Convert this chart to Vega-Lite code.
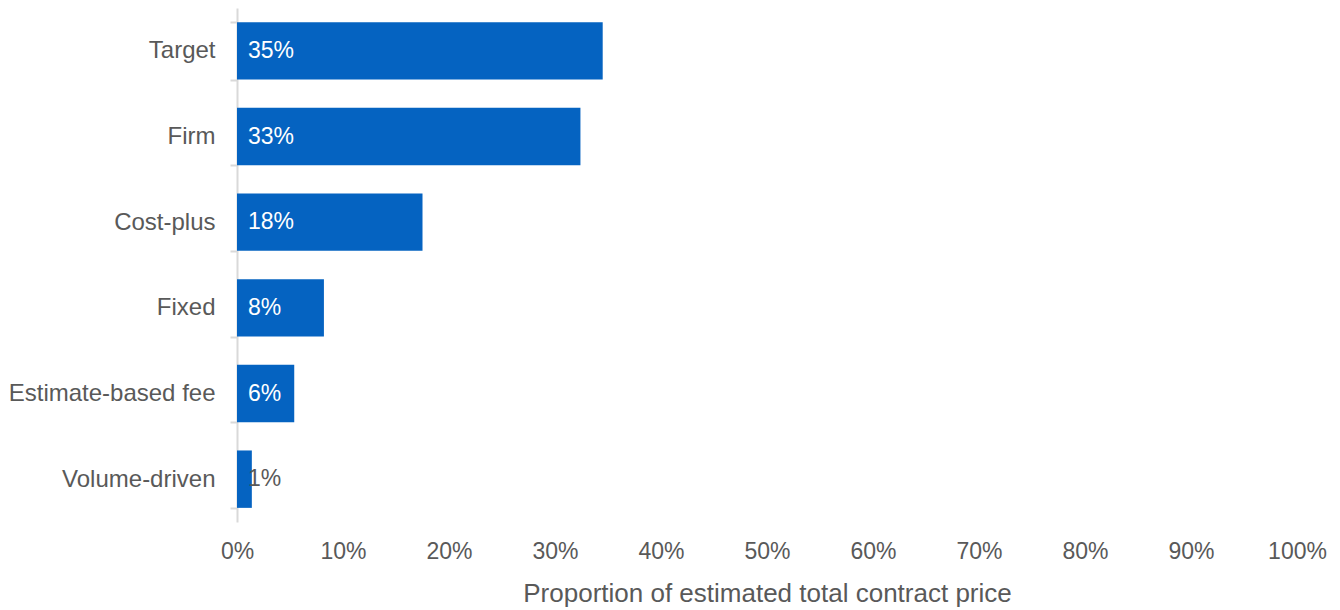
{
  "$schema": "https://vega.github.io/schema/vega-lite/v6.json",
  "width": 1060,
  "height": 514,
  "autosize": {"type": "none"},
  "padding": {"left": 237, "top": 8, "right": 43, "bottom": 88},
  "background": "white",
  "data": {
    "values": [
      {"type": "Target", "value": 34.5, "label": "35%"},
      {"type": "Firm", "value": 32.4, "label": "33%"},
      {"type": "Cost-plus", "value": 17.5, "label": "18%"},
      {"type": "Fixed", "value": 8.2, "label": "8%"},
      {"type": "Estimate-based fee", "value": 5.4, "label": "6%"},
      {"type": "Volume-driven", "value": 1.4, "label": "1%"}
    ]
  },
  "config": {
    "view": {"stroke": null},
    "font": "Liberation Sans",
    "axis": {"labelFont": "Liberation Sans", "titleFont": "Liberation Sans", "labelColor": "#595959", "titleColor": "#595959", "labelFontSize": 23, "titleFontSize": 26, "titleFontWeight": "normal"}
  },
  "encoding": {
    "y": {
      "field": "type",
      "type": "nominal",
      "sort": null,
      "scale": {"paddingInner": 0.33, "paddingOuter": 0.165},
      "axis": {
        "title": null,
        "tickBand": "extent",
        "domainColor": "#d9d9d9",
        "domainWidth": 2,
        "tickColor": "#d9d9d9",
        "tickWidth": 2,
        "tickSize": 7,
        "labelPadding": 15,
        "labelFontSize": 24,
        "labelLimit": 400,
        "grid": false
      }
    }
  },
  "layer": [
    {
      "mark": {"type": "bar", "color": "#0563c1"},
      "encoding": {
        "x": {
          "field": "value",
          "type": "quantitative",
          "scale": {"domain": [0, 100], "nice": false},
          "axis": {
            "title": "Proportion of estimated total contract price",
            "values": [0, 10, 20, 30, 40, 50, 60, 70, 80, 90, 100],
            "labelExpr": "datum.value + '%'",
            "labelFlush": false,
            "domain": false,
            "ticks": false,
            "grid": false,
            "labelPadding": 18,
            "titlePadding": 17
          }
        }
      }
    },
    {
      "mark": {"type": "text", "align": "left", "baseline": "middle", "dx": 11, "fontSize": 23, "font": "Liberation Sans"},
      "encoding": {
        "x": {"datum": 0, "type": "quantitative"},
        "text": {"field": "label"},
        "color": {
          "condition": {"test": "datum.value < 3", "value": "#595959"},
          "value": "white"
        }
      }
    }
  ]
}
